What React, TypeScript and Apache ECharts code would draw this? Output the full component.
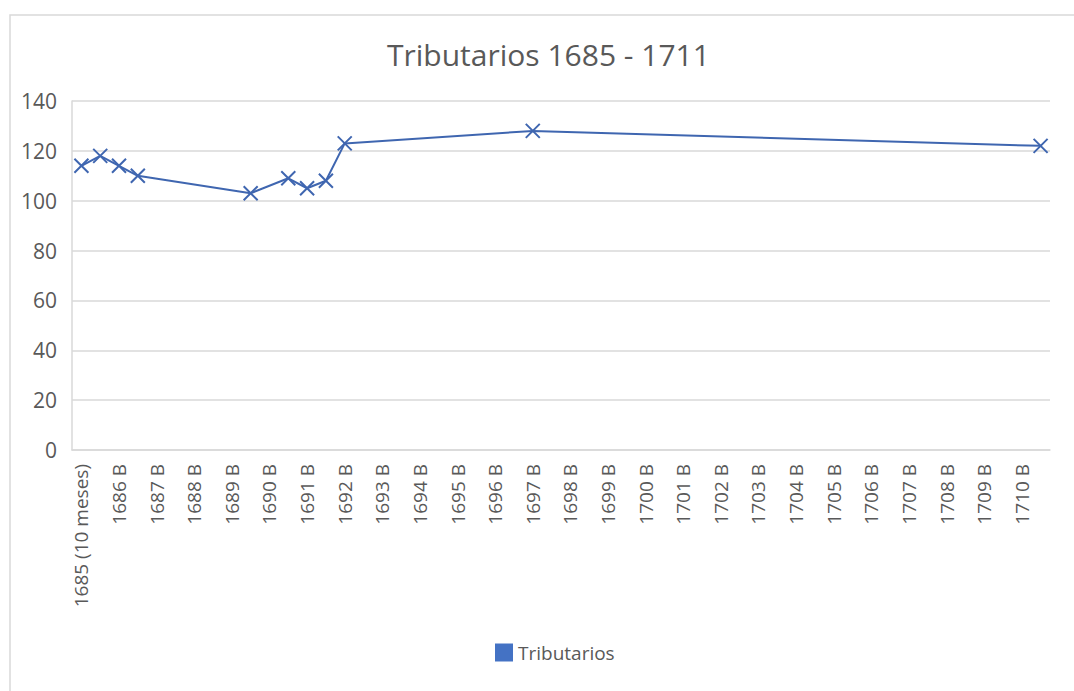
import React, { useEffect, useRef } from "react";
import * as echarts from "echarts";

const titleText = "Tributarios 1685 - 1711";
const seriesName = "Tributarios";

const categories = [
  "1685 (10 meses)", "1686 A", "1686 B", "1687 A", "1687 B", "1688 A", "1688 B", "1689 A", "1689 B",
  "1690 A", "1690 B", "1691 A", "1691 B", "1692 A", "1692 B", "1693 A", "1693 B", "1694 A", "1694 B",
  "1695 A", "1695 B", "1696 A", "1696 B", "1697 A", "1697 B", "1698 A", "1698 B", "1699 A", "1699 B",
  "1700 A", "1700 B", "1701 A", "1701 B", "1702 A", "1702 B", "1703 A", "1703 B", "1704 A", "1704 B",
  "1705 A", "1705 B", "1706 A", "1706 B", "1707 A", "1707 B", "1708 A", "1708 B", "1709 A", "1709 B",
  "1710 A", "1710 B", "1711 A",
];

const values: (number | null)[] = [
  114, 118, 114, 110, null, null, null, null, null,
  103, null, 109, 105, 108, 123, null, null, null, null,
  null, null, null, null, null, 128, null, null, null, null,
  null, null, null, null, null, null, null, null, null, null,
  null, null, null, null, null, null, null, null, null, null,
  null, null, 122,
];

const yTicks = { min: 0, max: 140, interval: 20 };

export default function App() {
  const ref = useRef<HTMLDivElement>(null);
  useEffect(() => {
    if (!ref.current) return;
    const chart = echarts.init(ref.current, null, { renderer: "svg" });
    const font = "'Open Sans', 'Liberation Sans', sans-serif";
    const gray = "#595959";
    const blue = "#4472C4";
    const lineBlue = "#3F66B0";
    chart.setOption({
      animation: false,
      backgroundColor: "#ffffff",
      textStyle: { fontFamily: font },
      title: {
        text: titleText,
        left: 382,
        top: 34,
        textStyle: { fontFamily: font, fontSize: 30, fontWeight: "normal", color: gray },
      },
      graphic: [
        {
          type: "rect",
          shape: { x: 10, y: 15, width: 1200, height: 800 },
          style: { fill: "none", stroke: "#d9d9d9", lineWidth: 1.5 },
          silent: true,
        },
      ],
      legend: {
        bottom: 24,
        left: 490,
        icon: "rect",
        itemWidth: 18,
        itemHeight: 18,
        itemGap: 10,
        textStyle: { fontFamily: font, fontSize: 19, color: gray },
        data: [{ name: seriesName, icon: "rect", itemStyle: { color: blue, borderWidth: 0 } }],
      },
      grid: { left: 72, right: 24, top: 101, bottom: 241, containLabel: false },
      xAxis: {
        type: "category",
        data: categories,
        boundaryGap: true,
        axisTick: { show: false },
        axisLine: { show: true, lineStyle: { color: "#d9d9d9", width: 1.5 } },
        axisLabel: {
          interval: 1,
          rotate: 90,
          fontSize: 19,
          color: gray,
          fontFamily: font,
          margin: 14,
        },
      },
      yAxis: {
        type: "value",
        min: yTicks.min,
        max: yTicks.max,
        interval: yTicks.interval,
        axisLine: { show: true, lineStyle: { color: "#d9d9d9", width: 1.5 } },
        axisTick: { show: false },
        splitLine: { lineStyle: { color: "#d9d9d9", width: 1.5 } },
        axisLabel: { fontSize: 21, color: gray, fontFamily: font, margin: 15 },
      },
      series: [
        {
          name: seriesName,
          type: "line",
          data: values,
          connectNulls: true,
          color: blue,
          lineStyle: { color: lineBlue, width: 2 },
          symbol: "path://M0,0L10,10M0,10L10,0",
          symbolSize: 14,
          showAllSymbol: true,
          itemStyle: { color: "rgba(0,0,0,0)", borderColor: lineBlue, borderWidth: 2 },
        },
      ],
    });
    return () => chart.dispose();
  }, []);
  return (
    <div
      ref={ref}
      style={{ position: "fixed", left: 0, top: 0, width: 1074, height: 691 }}
    />
  );
}
